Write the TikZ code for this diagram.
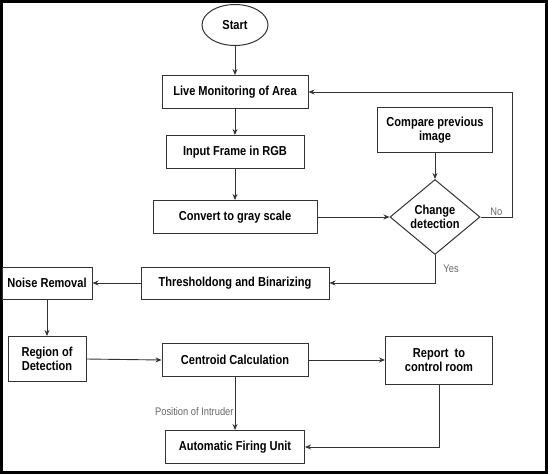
\documentclass[tikz,border=0pt]{standalone}
\usepackage{fontspec}
\setmainfont{Liberation Sans}[FakeStretch=0.85]
\usetikzlibrary{shapes.geometric,arrows.meta}
\begin{document}
\begin{tikzpicture}[x=1pt,y=-1pt,
  box/.style={draw=black!80, line width=1pt, inner sep=0pt, align=center,
    font=\fontsize{13}{14}\selectfont\bfseries},
  lab/.style={font=\fontsize{11}{12}\selectfont, text=black!60, inner sep=1pt},
  arr/.style={draw=black!80, line width=0.9pt, -{Stealth[length=6pt,width=5pt]}}]
\useasboundingbox (0,0) rectangle (548,474);
\draw[line width=3pt] (1.5,1.5) rectangle (546.5,472.5);

\node[box, ellipse, minimum width=66, minimum height=41] (start) at (235,25) {Start};
\node[box, minimum width=146, minimum height=33] (live) at (235,92) {Live Monitoring of Area};
\node[box, minimum width=138, minimum height=33] (input) at (235,152) {Input Frame in RGB};
\node[box, minimum width=164, minimum height=33] (gray) at (235,217) {Convert to gray scale};
\node[box, minimum width=115, minimum height=45] (cmp) at (435,130) {Compare previous\\image};
\node[box, diamond, aspect=1.6, minimum width=90, minimum height=75] (cd) at (435,217) {Change\\detection};
\node[box, minimum width=188, minimum height=32] (thr) at (235,283) {Thresholdong and Binarizing};
\node[box, minimum width=90, minimum height=32] (noise) at (47,283) {Noise Removal};
\node[box, minimum width=78, minimum height=45] (region) at (47,359) {Region of\\Detection};
\node[box, minimum width=146, minimum height=33] (cent) at (235,360) {Centroid Calculation};
\node[box, minimum width=107, minimum height=48] (report) at (439,360) {Report\ \ to\\control room};
\node[box, minimum width=139, minimum height=33] (fire) at (235,447) {Automatic Firing Unit};
\coordinate (nocorner) at (512,92);

\draw[arr] (start) -- (live);
\draw[arr] (live) -- (input);
\draw[arr] (input) -- (gray);
\draw[arr] (gray.east) -- (cd.west);
\draw[arr] (cmp.south) -- (cd.north);
\draw[arr] (cd.east) -- node[lab, above]{No} (cd.east -| nocorner) -- (nocorner) -- (live.east);
\draw[arr] (cd.south) |- node[lab, pos=0.25, right, xshift=7pt]{Yes} (thr.east);
\draw[arr] (thr.west) -- (noise.east);
\draw[arr] (noise.south) -- (region.north);
\draw[arr] (region.east) -- (cent.west);
\draw[arr] (cent.east) -- (report.west);
\draw[arr] (cent.south) -- node[lab, pos=0.66, left]{Position of Intruder} (fire.north);
\draw[arr] (report.south) |- (fire.east);
\end{tikzpicture}
\end{document}
